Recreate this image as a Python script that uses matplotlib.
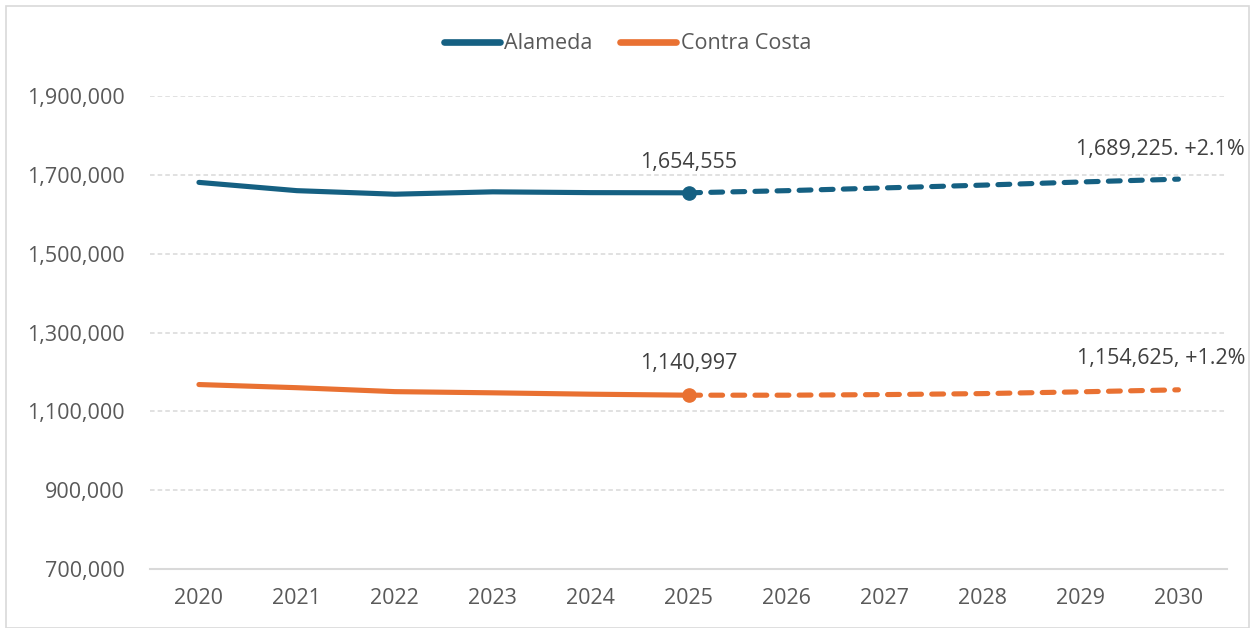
import matplotlib
matplotlib.use("Agg")
import matplotlib.pyplot as plt
from matplotlib.patches import Rectangle

years = [2020, 2021, 2022, 2023, 2024, 2025, 2026, 2027, 2028, 2029, 2030]
alameda_actual = [1681000, 1660000, 1651000, 1657000, 1655000, 1654555]
alameda_forecast = [1654555, 1660000, 1667000, 1674000, 1682000, 1689225]
contra_actual = [1168000, 1160000, 1150000, 1147000, 1143500, 1140997]
contra_forecast = [1140997, 1141000, 1142500, 1145000, 1149500, 1154625]
yticks = [700000, 900000, 1100000, 1300000, 1500000, 1700000, 1900000]
label_alameda_2025 = "1,654,555"
label_alameda_2030 = "1,689,225. +2.1%"
label_contra_2025 = "1,140,997"
label_contra_2030 = "1,154,625, +1.2%"

C_AL = "#156082"
C_CC = "#E97132"
TXT = "#595959"
FS = 15.5
plt.rcParams['font.family'] = ['Open Sans', 'DejaVu Sans']

fig = plt.figure(figsize=(12.55, 6.28), dpi=100)
fig.patches.append(Rectangle((0.005, 0.0), 0.99, 0.99, transform=fig.transFigure,
                             fill=False, edgecolor="#D9D9D9", linewidth=1.2))
ax = fig.add_axes([0.1195, 0.094, 0.8585, 0.753])

xi = list(range(len(years)))
n = len(alameda_actual)
lw = 3.7
ax.plot(xi[:n], alameda_actual, color=C_AL, lw=lw, solid_capstyle='round', label="Alameda", zorder=3)
ax.plot(xi[n-1:], alameda_forecast, color=C_AL, lw=lw, dashes=(2.3, 2.0), dash_capstyle='round', zorder=3)
ax.plot(xi[:n], contra_actual, color=C_CC, lw=lw, solid_capstyle='round', label="Contra Costa", zorder=3)
ax.plot(xi[n-1:], contra_forecast, color=C_CC, lw=lw, dashes=(2.3, 2.0), dash_capstyle='round', zorder=3)
ax.plot([xi[n-1]], [alameda_actual[-1]], 'o', color=C_AL, ms=9.5, zorder=4)
ax.plot([xi[n-1]], [contra_actual[-1]], 'o', color=C_CC, ms=9.5, zorder=4)

ax.set_xlim(-0.5, len(years) - 0.5)
ax.set_ylim(700000, 1900000)
ax.set_yticks(yticks)
ax.set_yticklabels([f"{v:,}" for v in yticks])
ax.set_xticks(xi)
ax.set_xticklabels([str(y) for y in years])
ax.tick_params(axis='both', length=0, labelsize=FS, colors=TXT)
ax.tick_params(axis='x', pad=14)
ax.tick_params(axis='y', pad=18)
for y in yticks[1:]:
    ax.axhline(y, color="#D9D9D9", lw=1.1, dashes=(3, 2), zorder=1)
for s in ['top', 'right', 'left']:
    ax.spines[s].set_visible(False)
ax.spines['bottom'].set_color("#D9D9D9")
ax.spines['bottom'].set_linewidth(1.5)

kw = dict(textcoords='offset points', va='bottom', fontsize=FS, color="#404040", annotation_clip=False)
ax.annotate(label_alameda_2025, (xi[n-1], alameda_actual[-1]), xytext=(0, 14), ha='center', **kw)
ax.annotate(label_contra_2025, (xi[n-1], contra_actual[-1]), xytext=(0, 15), ha='center', **kw)
ax.annotate(label_alameda_2030, (xi[-1], alameda_forecast[-1]), xytext=(48, 14), ha='right', **kw)
ax.annotate(label_contra_2030, (xi[-1], contra_forecast[-1]), xytext=(48, 15), ha='right', **kw)

leg = fig.legend(loc='center', bbox_to_anchor=(0.5, 0.93), ncol=2, frameon=False,
                 fontsize=FS, handlelength=2.6, columnspacing=1.3, handletextpad=0.2)
for t in leg.get_texts():
    t.set_color(TXT)
for h in leg.get_lines():
    h.set_linewidth(4.8)
    h.set_solid_capstyle('round')

fig.savefig("out.png", dpi=100)
